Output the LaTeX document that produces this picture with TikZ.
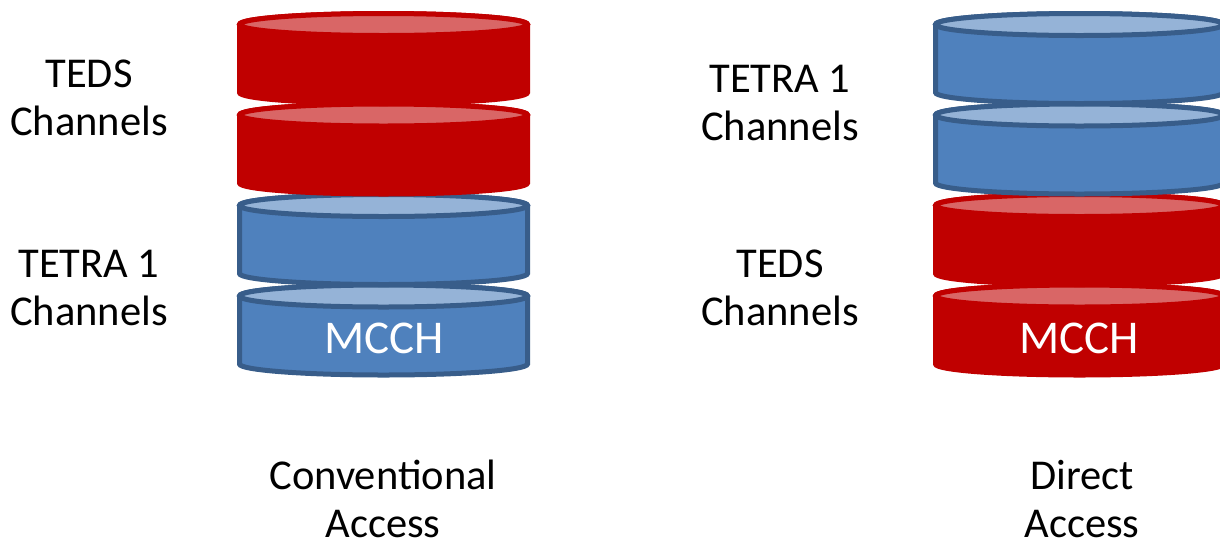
\documentclass[tikz,border=0pt]{standalone}
\usepackage{fontspec}
\setmainfont{Carlito}
\definecolor{redbody}{HTML}{C00000}
\definecolor{redtop}{HTML}{D96666}
\definecolor{bluebody}{HTML}{4F81BD}
\definecolor{bluetop}{HTML}{95B3D7}
\definecolor{blueline}{HTML}{385D8A}
\tikzset{
  redcan/.style={draw=redbody, fill=redbody, line width=5pt},
  redlid/.style={draw=redbody, fill=redtop, line width=5pt},
  bluecan/.style={draw=blueline, fill=bluebody, line width=5pt},
  bluelid/.style={draw=blueline, fill=bluetop, line width=5pt},
  lbl/.style={font=\fontsize{42.5}{48}\selectfont, align=center, anchor=base, inner sep=0pt},
  mcch/.style={font=\fontsize{47}{50}\selectfont, text=white, anchor=base, inner sep=0pt}
}
% #1 cx, #2 top-centre y (px, downward), #3 body style, #4 lid style
\newcommand\drumshape[4]{%
  \path[#3] (#1-144,-#2) -- (#1-144,-#2-68)
    arc[start angle=180,end angle=360,x radius=144pt,y radius=11pt]
    -- (#1+144,-#2)
    arc[start angle=0,end angle=180,x radius=144pt,y radius=11pt] -- cycle;
  \path[#4] (#1,-#2) ellipse[x radius=144pt,y radius=11pt];
}
\begin{document}
\begin{tikzpicture}[x=1pt,y=1pt]
\useasboundingbox (0,0) rectangle (1220,-539);
% left stack (bottom first)
\drumshape{383.5}{296}{bluecan}{bluelid}
\drumshape{383.5}{205.5}{bluecan}{bluelid}
\drumshape{383.5}{115}{redcan}{redlid}
\drumshape{383.5}{24.5}{redcan}{redlid}
% right stack
\drumshape{1079.5}{296}{redcan}{redlid}
\drumshape{1079.5}{205.5}{redcan}{redlid}
\drumshape{1079.5}{115}{bluecan}{bluelid}
\drumshape{1079.5}{24.5}{bluecan}{bluelid}
% texts (anchor base = baseline of the last line)
\node[mcch] (mcchL) at (384,-353) {MCCH};
\node[mcch] (mcchR) at (1079,-353) {MCCH};
\node[lbl] (tedsL) at (89,-135) {TEDS\\Channels};
\node[lbl] (tetraL) at (89,-325) {TETRA 1\\Channels};
\node[lbl] (tetraR) at (780,-140) {TETRA 1\\Channels};
\node[lbl] (tedsR) at (780,-325) {TEDS\\Channels};
\node[lbl, text depth=0pt] (conv) at (383,-537) {Conventional\\Access};
\node[lbl, text depth=0pt] (direct) at (1082,-537) {Direct\\Access};
\end{tikzpicture}
\end{document}
